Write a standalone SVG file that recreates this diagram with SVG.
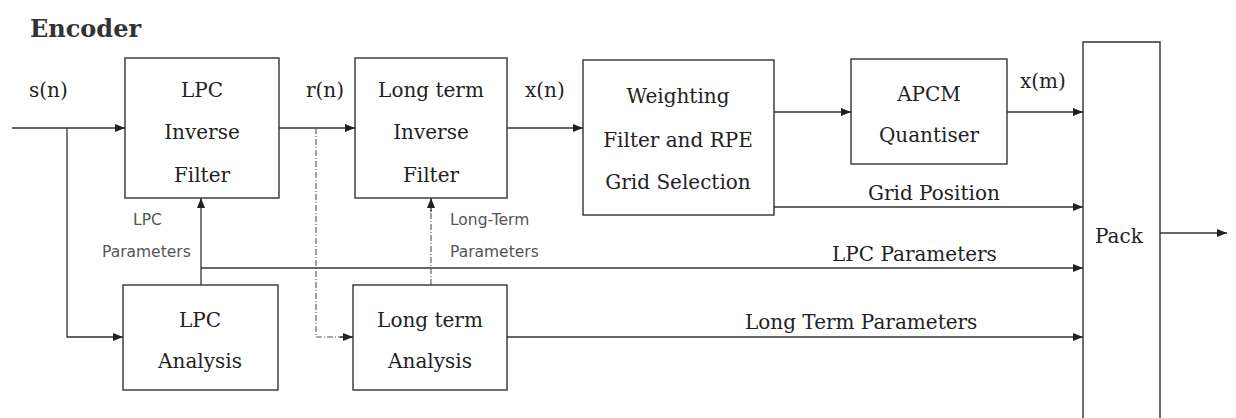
<svg xmlns="http://www.w3.org/2000/svg" width="1236" height="418" viewBox="0 0 1236 418">
<defs>
<marker id="ah" markerWidth="10" markerHeight="8" refX="10" refY="4" orient="auto" markerUnits="userSpaceOnUse">
<path d="M0,0 L10,4 L0,8 Z" fill="#222"/>
</marker>
<style>
.box{fill:none;stroke:#333;stroke-width:1.4}
.ln{fill:none;stroke:#333;stroke-width:1.3}
.dl{fill:none;stroke:#555;stroke-width:1.1;stroke-dasharray:6 2 1 2}
.t{font-family:"DejaVu Serif","Liberation Serif",serif;font-size:20px;fill:#222;text-anchor:middle}
.tl{font-family:"DejaVu Serif","Liberation Serif",serif;font-size:20px;fill:#222}
.s{font-family:"DejaVu Sans","Liberation Sans",sans-serif;font-size:15.5px;fill:#555}
.h{font-family:"DejaVu Serif","Liberation Serif",serif;font-size:24px;font-weight:bold;fill:#333}
</style>
</defs>
<rect width="1236" height="418" fill="#fff"/>
<text class="h" x="30" y="37">Encoder</text>

<g id="connectors">
<path class="ln" d="M12,128 H125" marker-end="url(#ah)"/>
<path class="ln" d="M67,128 V337 H123" marker-end="url(#ah)"/>
<path class="ln" d="M279,128 H355" marker-end="url(#ah)"/>
<path class="dl" d="M316,128 V337 H353"/>
<path class="ln" d="M340,337 H353" marker-end="url(#ah)"/>
<path class="ln" d="M507,128 H583" marker-end="url(#ah)"/>
<path class="ln" d="M774,112 H851" marker-end="url(#ah)"/>
<path class="ln" d="M1007,112 H1083" marker-end="url(#ah)"/>
<path class="ln" d="M774,207 H1083" marker-end="url(#ah)"/>
<path class="ln" d="M201,285 V198" marker-end="url(#ah)"/>
<path class="ln" d="M201,268 H1083" marker-end="url(#ah)"/>
<path class="dl" d="M431,285 V208"/>
<path class="ln" d="M431,212 V198" marker-end="url(#ah)"/>
<path class="ln" d="M507,337 H1083" marker-end="url(#ah)"/>
<path class="ln" d="M1160,233 H1227" marker-end="url(#ah)"/>
</g>

<g id="labels">
<text class="tl" x="29" y="97">s(n)</text>
<text class="tl" x="306" y="97">r(n)</text>
<text class="tl" x="525" y="97">x(n)</text>
<text class="tl" x="1020" y="88">x(m)</text>
<text class="tl" x="868" y="200">Grid Position</text>
<text class="tl" x="832" y="261">LPC Parameters</text>
<text class="tl" x="745" y="329">Long Term Parameters</text>
<text class="s" x="133" y="225">LPC</text>
<text class="s" x="102" y="257">Parameters</text>
<text class="s" x="450" y="225">Long-Term</text>
<text class="s" x="450" y="257">Parameters</text>
</g>

<g id="lpc-inverse">
<rect class="box" x="125" y="58" width="154" height="140"/>
<text class="t" x="202" y="97">LPC</text>
<text class="t" x="202" y="139">Inverse</text>
<text class="t" x="202" y="182">Filter</text>
</g>
<g id="lt-inverse">
<rect class="box" x="355" y="58" width="152" height="140"/>
<text class="t" x="431" y="97">Long term</text>
<text class="t" x="431" y="139">Inverse</text>
<text class="t" x="431" y="182">Filter</text>
</g>
<g id="weighting">
<rect class="box" x="583" y="60" width="191" height="155"/>
<text class="t" x="678" y="103">Weighting</text>
<text class="t" x="678" y="147">Filter and RPE</text>
<text class="t" x="678" y="189">Grid Selection</text>
</g>
<g id="apcm">
<rect class="box" x="851" y="59" width="156" height="105"/>
<text class="t" x="929" y="101">APCM</text>
<text class="t" x="929" y="142">Quantiser</text>
</g>
<g id="pack">
<path class="box" d="M1083,430 V42 H1160 V430"/>
<text class="tl" x="1095" y="243">Pack</text>
</g>
<g id="lpc-analysis">
<rect class="box" x="123" y="285" width="155" height="105"/>
<text class="t" x="200" y="327">LPC</text>
<text class="t" x="200" y="368">Analysis</text>
</g>
<g id="lt-analysis">
<rect class="box" x="353" y="285" width="154" height="105"/>
<text class="t" x="430" y="327">Long term</text>
<text class="t" x="430" y="368">Analysis</text>
</g>
</svg>
